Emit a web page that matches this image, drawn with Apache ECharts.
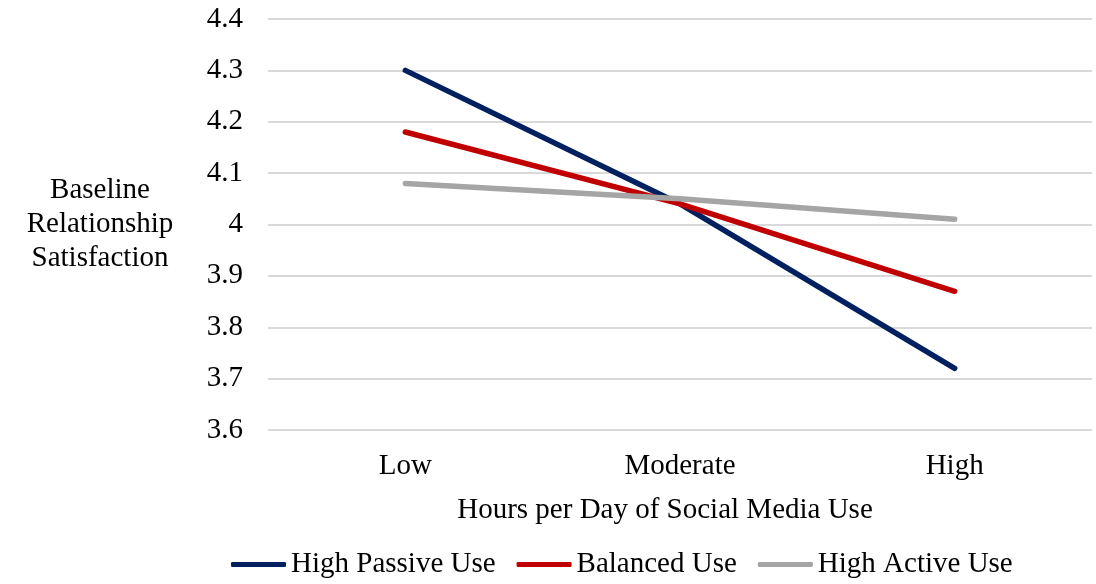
<!DOCTYPE html>
<html><head><meta charset="utf-8">
<script src="https://cdn.jsdelivr.net/npm/echarts@6/dist/echarts.min.js"></script>
<style>html,body{margin:0;padding:0;background:#fff}#c{width:1096px;height:584px}</style>
</head><body><div id="c"></div>
<script>
const categories = ['Low', 'Moderate', 'High'];
const seriesNames = ['High Passive Use', 'Balanced Use', 'High Active Use'];
const highPassive = [4.30, 4.04, 3.72];
const balanced = [4.18, 4.04, 3.87];
const highActive = [4.08, 4.05, 4.01];
const colors = ['#002060', '#C00000', '#A5A5A5'];
const font = 'Liberation Serif, Times New Roman, serif';
const fs = 29;

const chart = echarts.init(document.getElementById('c'));
const mk = (name, data, color) => ({
  name, type: 'line', data, symbol: 'none', smooth: false,
  lineStyle: { color, width: 5.5, cap: 'round' }, itemStyle: { color }
});
chart.setOption({
  animation: false,
  textStyle: { fontFamily: font },
  grid: { left: 268, right: 4, top: 19, bottom: 154 },
  xAxis: {
    type: 'category', data: categories, boundaryGap: true,
    axisLine: { show: false }, axisTick: { show: false },
    axisLabel: { fontSize: fs, color: '#000', fontFamily: font, margin: 22 },
    name: 'Hours per Day of Social Media Use', nameLocation: 'middle', nameGap: 66,
    nameTextStyle: { fontSize: fs, color: '#000', fontFamily: font, padding: [0, 30, 0, 0] }
  },
  yAxis: {
    type: 'value', min: 3.6, max: 4.4, interval: 0.1,
    axisLine: { show: false }, axisTick: { show: false },
    splitLine: { lineStyle: { color: '#D9D9D9', width: 2 } },
    axisLabel: { fontSize: fs, color: '#000', fontFamily: font, margin: 25,
      formatter: v => String(Math.round(v * 10) / 10) }
  },
  graphic: [{
    type: 'text', x: 100, y: 224,
    style: { text: 'Baseline\nRelationship\nSatisfaction', fontSize: fs, fontFamily: font,
      fill: '#000', align: 'center', verticalAlign: 'middle', lineHeight: 34 }
  }],
  legend: {
    bottom: 0, left: 226, itemWidth: 55, itemHeight: 5, itemGap: 21, icon: 'roundRect',
    textStyle: { fontSize: fs, color: '#000', fontFamily: font },
    data: seriesNames
  },
  series: [mk(seriesNames[0], highPassive, colors[0]), mk(seriesNames[1], balanced, colors[1]), mk(seriesNames[2], highActive, colors[2])]
});
</script></body></html>
